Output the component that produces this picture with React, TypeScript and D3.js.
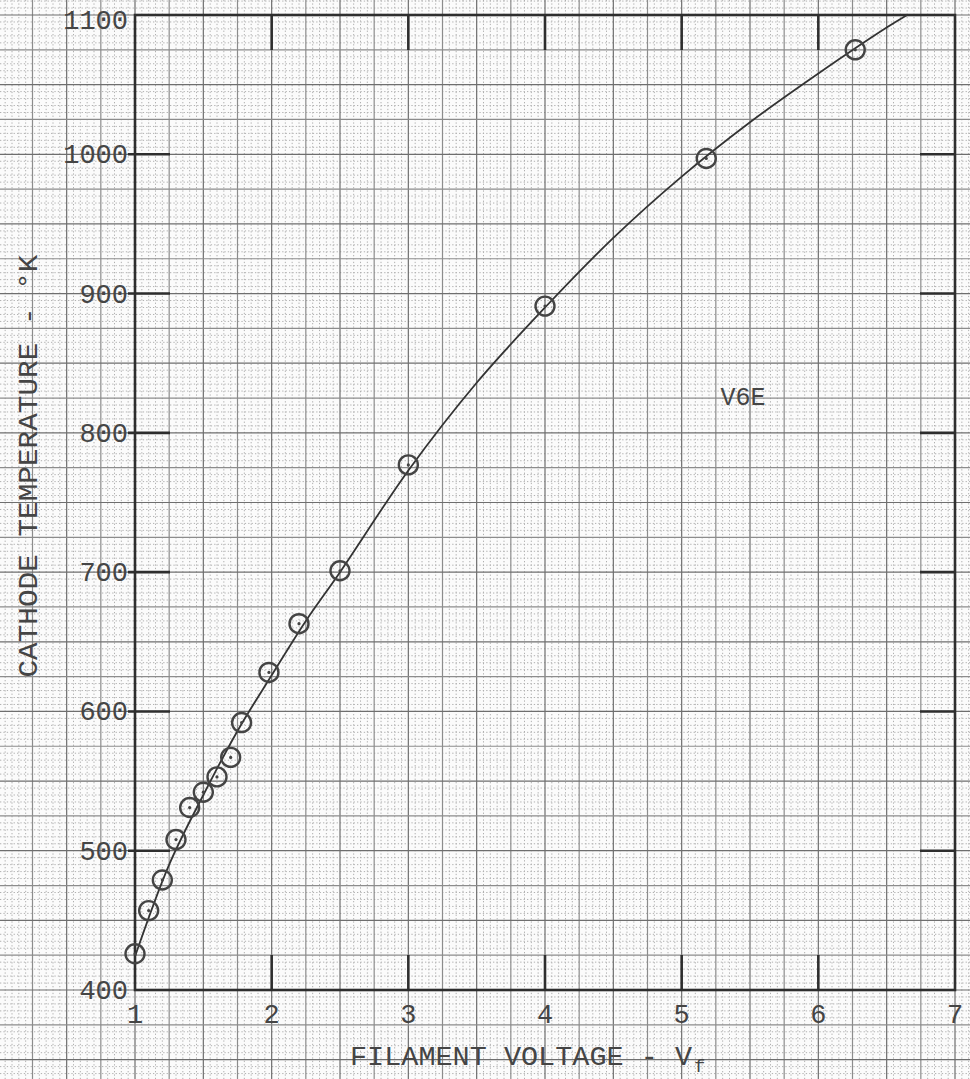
import * as d3 from 'd3';

// measured points (filament voltage, cathode temperature)
const voltage = [1.0, 1.1, 1.2, 1.3, 1.4, 1.5, 1.6, 1.7, 1.78, 1.98, 2.2, 2.5, 3.0, 4.0, 5.18, 6.27];
const temperature = [426, 457, 479, 508, 531, 542, 553, 567, 592, 628, 663, 701, 777, 891, 997, 1075];

// hand-drawn smooth curve
const curveVoltage = [1.0, 1.25, 1.5, 1.75, 2.0, 2.25, 2.5, 3.0, 3.5, 4.0, 4.5, 5.0, 5.5, 6.0, 6.5, 6.65];
const curveTemperature = [424, 490, 540, 586, 626, 665, 700, 773, 836, 890, 940, 984, 1023, 1058, 1091, 1100];

const xTicks = [1, 2, 3, 4, 5, 6, 7];
const yTicks = [400, 500, 600, 700, 800, 900, 1000, 1100];

const W = 970;
const H = 1079;
const ink = '#454545';
const mono = '"Liberation Mono", "DejaVu Sans Mono", monospace';

export default function App() {
    const x = d3.scaleLinear().domain([1, 7]).range([135, 955]);
    const y = d3.scaleLinear().domain([400, 1100]).range([990, 15]);

    // graph paper covers the whole sheet
    const vMin = x.invert(0), vMax = x.invert(W);
    const tMin = y.invert(H), tMax = y.invert(0);
    const fineV = d3.range(Math.ceil(vMin / 0.05), Math.floor(vMax / 0.05) + 1).map(i => i * 0.05);
    const fineT = d3.range(Math.ceil(tMin / 5), Math.floor(tMax / 5) + 1).map(i => i * 5);

    const line = d3.line<number>()
        .x((_, i) => x(curveVoltage[i]))
        .y(d => y(d))
        .curve(d3.curveCatmullRom.alpha(0.5));

    const innerX = xTicks.slice(1, -1);
    const innerY = yTicks.slice(1, -1);
    const tickLen = 35;

    return (
        <svg width={W} height={H} style={{ position: 'absolute', left: 0, top: 0, background: '#fbfbfb' }}>
            {/* fine dotted rulings */}
            <g stroke="#b0b0b0" strokeWidth={1} strokeDasharray="1.3,2.1">
                {fineV.filter(v => Math.round(v / 0.05) % 5 !== 0).map(v => (
                    <line key={'fv' + v} x1={x(v)} x2={x(v)} y1={0} y2={H} />
                ))}
                {fineT.filter(t => t % 25 !== 0).map(t => (
                    <line key={'ft' + t} x1={0} x2={W} y1={y(t)} y2={y(t)} />
                ))}
            </g>
            {/* medium rulings */}
            <g fill="none">
                {fineV.filter(v => Math.round(v / 0.05) % 5 === 0).map(v => (
                    <line key={'mv' + v} x1={x(v)} x2={x(v)} y1={0} y2={H}
                        stroke={Math.round(v / 0.05) % 10 === 0 ? '#6e6e6e' : '#8c8c8c'} strokeWidth={1.2} />
                ))}
                {fineT.filter(t => t % 25 === 0).map(t => (
                    <line key={'mt' + t} x1={0} x2={W} y1={y(t)} y2={y(t)}
                        stroke={t % 50 === 0 ? '#6e6e6e' : '#8c8c8c'} strokeWidth={1.2} />
                ))}
            </g>

            {/* frame */}
            <rect x={x(1)} y={y(1100)} width={x(7) - x(1)} height={y(400) - y(1100)}
                fill="none" stroke="#2e2e2e" strokeWidth={2.6} />

            {/* inward ticks */}
            <g stroke="#2e2e2e" strokeWidth={2.6}>
                {innerY.map(t => (
                    <g key={'ty' + t}>
                        <line x1={x(1) - 7} x2={x(1) + tickLen} y1={y(t)} y2={y(t)} />
                        <line x1={x(7) - tickLen} x2={x(7)} y1={y(t)} y2={y(t)} />
                    </g>
                ))}
                {innerX.map(v => (
                    <g key={'tx' + v}>
                        <line x1={x(v)} x2={x(v)} y1={y(400)} y2={y(400) - tickLen} />
                        <line x1={x(v)} x2={x(v)} y1={y(1100)} y2={y(1100) + tickLen} />
                    </g>
                ))}
            </g>

            {/* tick labels */}
            <g fontFamily={mono} fontSize={27} fill={ink}>
                {yTicks.map(t => (
                    <text key={'ly' + t} x={x(1) - 7} y={y(t) + (t === 1100 ? 14 : 9)} textAnchor="end">{t}</text>
                ))}
                {xTicks.map(v => (
                    <text key={'lx' + v} x={x(v)} y={1023} textAnchor="middle">{v}</text>
                ))}
            </g>

            {/* axis titles */}
            <text x={350} y={1065} fontFamily={mono} fontSize={28} fill={ink} textLength={342} lengthAdjust="spacingAndGlyphs">
                FILAMENT VOLTAGE - V
            </text>
            <text x={694} y={1072} fontFamily={mono} fontSize={19} fill={ink}>f</text>
            <text transform="translate(37,466) rotate(-90)" textAnchor="middle" fontFamily={mono} fontSize={27}
                fill={ink} textLength={423} lengthAdjust="spacingAndGlyphs">
                CATHODE TEMPERATURE - °K
            </text>

            <text x={743} y={405} textAnchor="middle" fontFamily={mono} fontSize={25} fill={ink}>V6E</text>

            {/* fitted curve */}
            <path d={line(curveTemperature) ?? ''} fill="none" stroke="#333" strokeWidth={1.8} />

            {/* data points */}
            <g>
                {voltage.map((v, i) => (
                    <g key={'p' + i}>
                        <circle cx={x(v)} cy={y(temperature[i])} r={9.5} fill="none" stroke="#444" strokeWidth={2.4} />
                        <circle cx={x(v)} cy={y(temperature[i])} r={1.6} fill="#444" />
                    </g>
                ))}
            </g>
        </svg>
    );
}
